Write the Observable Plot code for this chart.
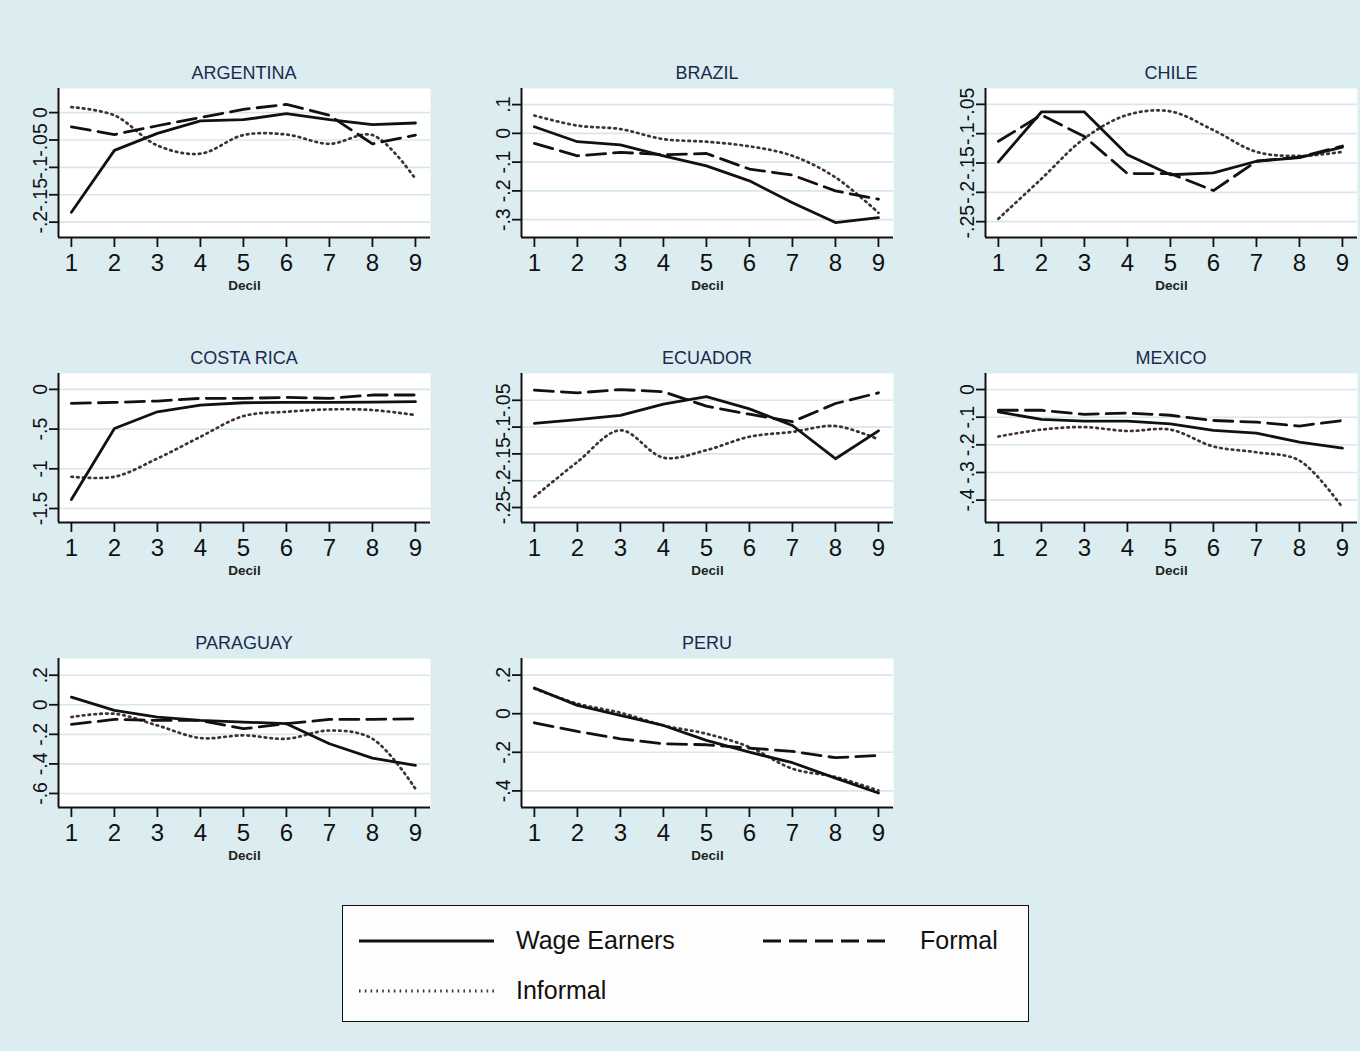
<!DOCTYPE html>
<html><head><meta charset="utf-8">
<script src="https://cdn.jsdelivr.net/npm/d3@7"></script>
<script src="https://cdn.jsdelivr.net/npm/@observablehq/plot@0.6"></script>
<style>
body{margin:0;background:#dcedf1;font-family:"Liberation Sans",Arial,sans-serif;}
#page{position:relative;width:1360px;height:1051px;overflow:hidden;background:#dcedf1;}
.panel{position:absolute;width:440px;}
.panel svg{max-width:none !important;}
.title{position:absolute;width:372px;text-align:center;font-size:18px;color:#1a2a4e;line-height:20px;}
#legend{position:absolute;left:342px;top:905px;width:685px;height:115px;border:1.6px solid #111;background:#fdfdfd;}
#legend svg{position:absolute;left:0;top:0;}
.lt{position:absolute;font-size:25px;color:#111;line-height:30px;}
</style></head>
<body><div id="page"></div>
<script>
const deciles = [1, 2, 3, 4, 5, 6, 7, 8, 9];
const countries = ["ARGENTINA", "BRAZIL", "CHILE", "COSTA RICA", "ECUADOR", "MEXICO", "PARAGUAY", "PERU"];
const seriesNames = ["Wage Earners", "Formal", "Informal"];

const argentinaWage     = [-0.182, -0.069, -0.038, -0.015, -0.013, -0.002, -0.013, -0.022, -0.019];
const argentinaFormal   = [-0.026, -0.040, -0.024, -0.009, 0.006, 0.015, -0.005, -0.057, -0.041];
const argentinaInformal = [0.010, -0.005, -0.060, -0.075, -0.041, -0.040, -0.057, -0.041, -0.121];
const argentinaTicks    = [-0.2, -0.15, -0.1, -0.05, 0];

const brazilWage     = [0.023, -0.029, -0.040, -0.078, -0.113, -0.165, -0.241, -0.310, -0.293];
const brazilFormal   = [-0.035, -0.078, -0.066, -0.074, -0.070, -0.124, -0.145, -0.200, -0.229];
const brazilInformal = [0.062, 0.027, 0.015, -0.020, -0.029, -0.045, -0.078, -0.153, -0.276];
const brazilTicks    = [-0.3, -0.2, -0.1, 0, 0.1];

const chileWage     = [-0.148, -0.063, -0.063, -0.136, -0.170, -0.167, -0.147, -0.141, -0.123];
const chileFormal   = [-0.113, -0.068, -0.105, -0.168, -0.168, -0.197, -0.147, -0.140, -0.121];
const chileInformal = [-0.245, -0.177, -0.108, -0.068, -0.062, -0.094, -0.131, -0.138, -0.131];
const chileTicks    = [-0.25, -0.2, -0.15, -0.1, -0.05];

const costaRicaWage     = [-1.387, -0.492, -0.282, -0.197, -0.168, -0.164, -0.164, -0.160, -0.155];
const costaRicaFormal   = [-0.176, -0.164, -0.147, -0.113, -0.113, -0.101, -0.113, -0.071, -0.071];
const costaRicaInformal = [-1.10, -1.10, -0.87, -0.597, -0.336, -0.282, -0.252, -0.260, -0.324];
const costaRicaTicks    = [-1.5, -1, -0.5, 0];

const ecuadorWage     = [-0.093, -0.086, -0.078, -0.057, -0.043, -0.066, -0.097, -0.159, -0.107];
const ecuadorFormal   = [-0.031, -0.036, -0.030, -0.034, -0.061, -0.076, -0.090, -0.056, -0.036];
const ecuadorInformal = [-0.230, -0.165, -0.106, -0.157, -0.143, -0.118, -0.109, -0.098, -0.123];
const ecuadorTicks    = [-0.25, -0.2, -0.15, -0.1, -0.05];

const mexicoWage     = [-0.081, -0.108, -0.114, -0.114, -0.124, -0.148, -0.158, -0.190, -0.212];
const mexicoFormal   = [-0.075, -0.075, -0.090, -0.085, -0.093, -0.112, -0.118, -0.132, -0.112];
const mexicoInformal = [-0.170, -0.145, -0.136, -0.150, -0.145, -0.206, -0.227, -0.257, -0.427];
const mexicoTicks    = [-0.4, -0.3, -0.2, -0.1, 0];

const paraguayWage     = [0.052, -0.038, -0.083, -0.106, -0.117, -0.128, -0.264, -0.361, -0.410];
const paraguayFormal   = [-0.133, -0.099, -0.106, -0.106, -0.162, -0.128, -0.099, -0.099, -0.095];
const paraguayInformal = [-0.083, -0.061, -0.140, -0.225, -0.207, -0.230, -0.174, -0.230, -0.568];
const paraguayTicks    = [-0.6, -0.4, -0.2, 0, 0.2];

const peruWage     = [0.133, 0.043, -0.009, -0.061, -0.138, -0.199, -0.254, -0.334, -0.411];
const peruFormal   = [-0.047, -0.092, -0.130, -0.156, -0.161, -0.178, -0.195, -0.228, -0.216];
const peruInformal = [0.130, 0.052, 0.005, -0.061, -0.104, -0.173, -0.285, -0.328, -0.398];
const peruTicks    = [-0.4, -0.2, 0, 0.2];

const wageSeries = [argentinaWage, brazilWage, chileWage, costaRicaWage, ecuadorWage, mexicoWage, paraguayWage, peruWage];
const formalSeries = [argentinaFormal, brazilFormal, chileFormal, costaRicaFormal, ecuadorFormal, mexicoFormal, paraguayFormal, peruFormal];
const informalSeries = [argentinaInformal, brazilInformal, chileInformal, costaRicaInformal, ecuadorInformal, mexicoInformal, paraguayInformal, peruInformal];
const tickSets = [argentinaTicks, brazilTicks, chileTicks, costaRicaTicks, ecuadorTicks, mexicoTicks, paraguayTicks, peruTicks];
const yDomains = [[-0.228, 0.044], [-0.362, 0.156], [-0.277, -0.023], [-1.676, 0.2], [-0.278, 0.0], [-0.481, 0.058], [-0.695, 0.313], [-0.486, 0.286]];

// layout
const colLeft = [58, 521, 985];
const rowTop = [88, 373, 658];
const frameW = 372, frameH = 149;
const mL = 58, mR = 8, mT = 8, mB = 64;
const xDomain = [0.70, 9.35];
const ink = "#111";
const styles = {
  wage: {stroke: ink, strokeWidth: 2.8},
  formal: {stroke: ink, strokeWidth: 2.8, strokeDasharray: "19,8"},
  informal: {stroke: "#3c3434", strokeWidth: 2.7, strokeDasharray: "1.6,4.2", curve: "catmull-rom"}
};
const fmt = v => v === 0 ? "0" : String(v).replace("0.", ".");

const page = document.getElementById("page");

countries.forEach((name, k) => {
  const col = k % 3, row = Math.floor(k / 3);
  const rows = (arr) => deciles.map((d, i) => ({decil: d, value: arr[i]}));
  const ticks = tickSets[k];
  const yd = yDomains[k];
  const chart = Plot.plot({
    width: mL + frameW + mR,
    height: mT + frameH + mB,
    marginLeft: mL, marginRight: mR, marginTop: mT, marginBottom: mB,
    style: {background: "transparent", fontFamily: "'Liberation Sans', Arial, sans-serif", overflow: "visible", maxWidth: "none"},
    x: {domain: xDomain},
    y: {domain: yd},
    marks: [
      Plot.frame({fill: "white", stroke: "none"}),
      Plot.gridY(ticks, {stroke: "#d9e7ec", strokeOpacity: 1, strokeWidth: 1.6}),
      Plot.line(rows(informalSeries[k]), {x: "decil", y: "value", ...styles.informal}),
      Plot.line(rows(formalSeries[k]), {x: "decil", y: "value", ...styles.formal}),
      Plot.line(rows(wageSeries[k]), {x: "decil", y: "value", ...styles.wage}),
      Plot.ruleX([xDomain[0]], {stroke: ink, strokeWidth: 2}),
      Plot.ruleY([yd[0]], {stroke: ink, strokeWidth: 2}),
      Plot.axisX(deciles, {tickSize: 10, tickPadding: 6, fontSize: 24, label: null, stroke: ink, fill: ink, strokeWidth: 1.8}),
      Plot.axisY(ticks, {tickSize: 9, tickFormat: () => "", label: null, stroke: ink, strokeWidth: 1.8}),
      Plot.text(ticks, {y: d => d, text: fmt, frameAnchor: "left", rotate: -90, dx: -12, textAnchor: "middle", lineAnchor: "bottom", fontSize: 19.5, fill: ink}),
      Plot.text(["Decil"], {frameAnchor: "bottom", dy: 48, text: d => d, fontSize: 13.5, fontWeight: "bold", fill: "#222", lineAnchor: "middle"})
    ]
  });
  const wrap = document.createElement("div");
  wrap.className = "panel";
  wrap.style.left = (colLeft[col] - mL) + "px";
  wrap.style.top = (rowTop[row] - mT) + "px";
  wrap.appendChild(chart);
  page.appendChild(wrap);
  const t = document.createElement("div");
  t.className = "title";
  t.textContent = name;
  t.style.left = colLeft[col] + "px";
  t.style.top = (rowTop[row] - 25) + "px";
  page.appendChild(t);
});

// legend
const legend = document.createElement("div");
legend.id = "legend";
legend.innerHTML = `<svg width="685" height="115">
  <line x1="16" x2="151" y1="35" y2="35" stroke="${ink}" stroke-width="3.2"/>
  <line x1="420" x2="550" y1="35" y2="35" stroke="${ink}" stroke-width="3.2" stroke-dasharray="18,8"/>
  <line x1="16" x2="151" y1="85" y2="85" stroke="#3c3434" stroke-width="3" stroke-dasharray="1.6,4.2"/>
</svg>
<div class="lt" style="left:173px;top:19px">${seriesNames[0]}</div>
<div class="lt" style="left:577px;top:19px">${seriesNames[1]}</div>
<div class="lt" style="left:173px;top:69px">${seriesNames[2]}</div>`;
page.appendChild(legend);
</script>
</body></html>
